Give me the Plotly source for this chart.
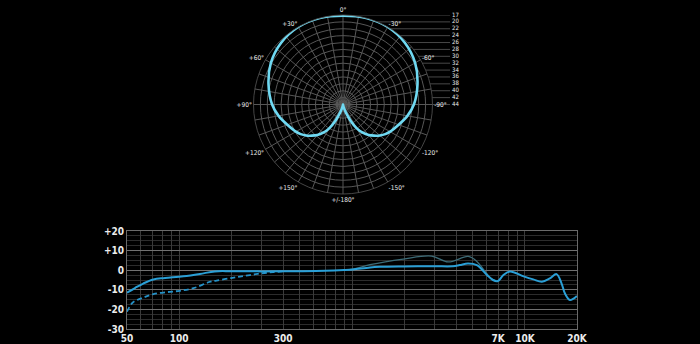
import math
import plotly.graph_objects as go

# ---------------- data ----------------
# polar pattern (half, mirrored), radius in ring units (outer ring = 13)
pat_angle = [0, 15, 30, 45, 60, 75, 90, 100, 110, 120, 125, 130, 135, 140, 145, 150, 155, 160, 165, 170, 175, 180]
pat_radius = [12.9, 13.0, 13.0, 12.7, 12.1, 11.2, 10.3, 9.5, 8.6, 7.9, 7.5, 7.0, 6.4, 5.8, 5.0, 4.0, 2.6, 1.3, 0.5, 0.15, 0.03, 0.0]

angle_ticks = [0, 30, 60, 90, 120, 150, 180, 210, 240, 270, 300, 330]
angle_labels = ["0°", "+30°", "+60°", "+90°", "+120°", "+150°", "+/-180°", "-150°", "-120°", "-90°", "-60°", "-30°"]

ring_labels = ["44", "42", "40", "38", "36", "34", "32", "30", "28", "26", "24", "22", "20", "17"]  # ring 0..13

# frequency response
solid_f = [50, 55.6, 62, 71, 83, 106, 132, 161, 200, 300, 500, 700, 900, 1012, 1271, 1450, 2000, 3000, 3830,
           4200, 4680, 5270, 6030, 6530, 6985, 7480, 8190, 9730, 11170, 12530, 13940, 15230, 16290, 17020, 18200, 19970]
solid_db = [-11.5, -9.1, -6.8, -4.7, -4.0, -3.1, -1.9, -0.6, -0.5, -0.6, -0.5, -0.3, 0.1, 0.4, 1.4, 1.7, 1.9, 2.0, 2.0,
            2.6, 3.4, 2.6, -2.4, -5.0, -5.5, -2.6, -0.7, -3.0, -4.7, -5.9, -4.2, -2.0, -6.8, -11.8, -15.2, -13.2]

dash_f = [50, 54, 62, 71, 85, 101, 121, 150, 165, 200, 225, 257, 300, 350, 400]
dash_db = [-21.2, -16.5, -14.0, -12.2, -11.2, -10.5, -9.2, -6.0, -5.3, -4.0, -3.3, -2.5, -1.6, -1.0, -0.6]

thin_f = [900, 1012, 1271, 1977, 2885, 3600, 4700, 5270, 5800, 6270, 6700]
thin_db = [0.1, 0.5, 2.8, 5.7, 7.2, 4.2, 7.0, 4.5, 0.0, -3.6, -5.3]

grid_freqs = [50, 60, 70, 80, 90, 100, 200, 300, 400, 500, 600, 700, 800, 900, 1000,
              2000, 3000, 4000, 5000, 6000, 7000, 8000, 9000, 10000, 20000]
freq_label_map = {50: "50", 100: "100", 400: "300", 7000: "7K", 10000: "10K", 20000: "20K"}

db_ticks = [-30, -20, -10, 0, 10, 20]
db_labels = ["-30", "-20", "-10", "0", "+10", "+20"]

# ---------------- layout constants ----------------
W, H = 700, 344


def px_x(px):
    return px / W


def px_y(py):
    return (H - py) / H


cx, cy, R = 343.0, 104.5, 89.5   # polar centre / radius (px)
n_rings = 13
unit = R / n_rings

font_fam = "Liberation Sans Narrow, DejaVu Sans Condensed, Liberation Sans, sans-serif"
grid_col = "#575757"
text_col = "#ececec"

fig = go.Figure()

# polar pattern
theta_full = pat_angle + [360 - a for a in reversed(pat_angle[:-1])]
r_full = pat_radius + list(reversed(pat_radius[:-1]))
fig.add_trace(go.Scatterpolar(theta=theta_full, r=r_full, mode="lines",
                              line=dict(color="#6fd9f2", width=2.6, shape="spline", smoothing=0.8),
                              hoverinfo="skip", showlegend=False))

# ring scale lines on the right (overlay cartesian)
x_end_px = 450
ov_right_px = 480
lx, ly = [], []
for k in range(n_rings + 1):
    x0 = math.sqrt(max(n_rings ** 2 - k ** 2, 0))
    lx += [x0, (x_end_px - cx) / unit, None]
    ly += [k, k, None]
fig.add_trace(go.Scatter(x=lx, y=ly, mode="lines", line=dict(color="#5a5a5a", width=0.8),
                         xaxis="x2", yaxis="y2", hoverinfo="skip", showlegend=False, cliponaxis=False))
fig.add_trace(go.Scatter(x=[(x_end_px + 2 - cx) / unit] * len(ring_labels), y=list(range(n_rings + 1)),
                         text=ring_labels, mode="text", textposition="middle right",
                         textfont=dict(color=text_col, size=6, family=font_fam),
                         xaxis="x2", yaxis="y2", hoverinfo="skip", showlegend=False, cliponaxis=False))

# frequency response
fig.add_trace(go.Scatter(x=thin_f, y=thin_db, mode="lines", line=dict(color="#3d6c78", width=1.3, shape="spline"),
                         hoverinfo="skip", showlegend=False))
fig.add_trace(go.Scatter(x=dash_f, y=dash_db, mode="lines",
                         line=dict(color="#2592c8", width=1.8, dash="5px,3px", shape="spline"),
                         hoverinfo="skip", showlegend=False))
fig.add_trace(go.Scatter(x=solid_f, y=solid_db, mode="lines", line=dict(color="#2a9fd6", width=2.0, shape="spline"),
                         hoverinfo="skip", showlegend=False))

pd_x0, pd_x1 = 127, 577
pd_top, pd_bot = 231, 329

fig.update_layout(
    template="none",
    width=W, height=H, autosize=False,
    margin=dict(l=0, r=0, t=0, b=0, pad=0),
    showlegend=False,
    paper_bgcolor="black", plot_bgcolor="black",
    polar=dict(
        domain=dict(x=[px_x(cx - R), px_x(cx + R)], y=[px_y(cy + R), px_y(cy - R)]),
        bgcolor="black",
        radialaxis=dict(range=[0, n_rings], dtick=1, tick0=0, showticklabels=False, ticks="",
                        showline=False, gridcolor=grid_col, gridwidth=0.8),
        angularaxis=dict(rotation=90, direction="counterclockwise",
                         tickmode="array", tickvals=list(range(0, 360, 10)),
                         ticktext=[angle_labels[angle_ticks.index(a)] if a in angle_ticks else "" for a in range(0, 360, 10)],
                         ticks="", showline=True, linecolor=grid_col, linewidth=0.8,
                         gridcolor=grid_col, gridwidth=0.8,
                         tickfont=dict(color=text_col, size=6.5, family=font_fam)),
    ),
    xaxis2=dict(domain=[px_x(cx - R), px_x(ov_right_px)],
                range=[-n_rings, -n_rings + (ov_right_px - (cx - R)) / unit],
                visible=False, anchor="y2", automargin=False),
    yaxis2=dict(domain=[px_y(cy + R), px_y(cy - R)], range=[-n_rings, n_rings],
                visible=False, anchor="x2", automargin=False),
    xaxis=dict(domain=[px_x(pd_x0), px_x(pd_x1)], type="log",
               range=[math.log10(50), math.log10(20000)],
               tickmode="array", tickvals=grid_freqs,
               ticktext=[freq_label_map.get(f, "") for f in grid_freqs],
               showgrid=True, gridcolor="#3a3a3a", gridwidth=1,
               showline=True, mirror=True, linecolor="#6a6a6a", linewidth=1,
               ticks="", zeroline=False, automargin=False,
               tickfont=dict(color=text_col, size=10, family=font_fam, weight="bold"), anchor="y"),
    yaxis=dict(domain=[px_y(pd_bot), px_y(pd_top)], range=[-30, 20],
               tickmode="array", tickvals=db_ticks, ticktext=db_labels,
               showgrid=True, gridcolor="#707070", gridwidth=1,
               minor=dict(tickmode="linear", tick0=-30, dtick=2.5, showgrid=True, gridcolor="#2c2c2c", gridwidth=1, ticks=""),
               showline=True, mirror=True, linecolor="#6a6a6a", linewidth=1,
               ticks="", zeroline=False, automargin=False,
               tickfont=dict(color=text_col, size=10, family=font_fam, weight="bold"), anchor="x"),
)

fig.write_html("out.html")
